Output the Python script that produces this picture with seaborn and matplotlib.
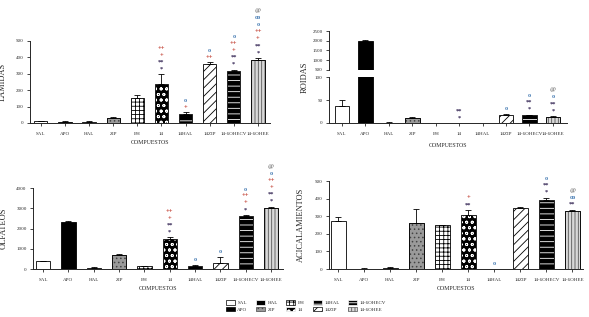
import numpy as np
import matplotlib
matplotlib.use("Agg")
import matplotlib.pyplot as plt
from matplotlib.patches import Patch, Rectangle
import seaborn as sns

# compound groups (same order in every panel)
categories = ["SAL", "APO", "HAL", "ZIP", "EH", "14", "14HAL", "14ZIP", "14-6OHECV", "14-6OHEE"]

# means and SEM
lamidas = [10, 8, 8, 30, 155, 240, 55, 360, 320, 385]
lamidas_err = [3, 3, 3, 4, 15, 57, 10, 10, 6, 12]
roidas = [38, 1970, 1, 10, 0, 0, 0, 17, 17, 12]
roidas_err = [11, 70, 1, 3, 0, 0, 0, 2, 1, 3]
olfateos = [395, 2300, 70, 680, 130, 1470, 160, 280, 2630, 3030]
olfateos_err = [25, 95, 30, 80, 30, 100, 25, 300, 30, 50]
acical = [275, 2, 5, 263, 248, 307, 0, 347, 393, 331]
acical_err = [22, 2, 8, 80, 3, 28, 0, 6, 12, 6]

# significance symbols above each bar (bottom to top)
lamidas_marks = {"14": ["*", "**", "+", "++"], "14HAL": ["+", "o"], "14ZIP": ["++", "o"],
                 "14-6OHECV": ["*", "**", "+", "++", "o"],
                 "14-6OHEE": ["*", "**", "+", "++", "o", "oo", "@"]}
roidas_marks = {"14": ["*", "**"], "14ZIP": ["o"], "14-6OHECV": ["*", "**", "o"],
                "14-6OHEE": ["*", "**", "o", "@"]}
olfateos_marks = {"14": ["*", "**", "+", "++"], "14HAL": ["o"], "14ZIP": ["o"],
                  "14-6OHECV": ["*", "+", "++", "o"],
                  "14-6OHEE": ["*", "**", "+", "++", "o", "@"]}
acical_marks = {"14": ["**", "+"], "14HAL": ["o"], "14-6OHECV": ["*", "**", "o"],
                "14-6OHEE": ["**", "oo", "@"]}

mark_colors = {"*": "#2e1f4f", "**": "#2e1f4f", "+": "#c0392b", "++": "#c0392b",
               "o": "#4a7fb5", "oo": "#4a7fb5", "@": "#808080"}

# facecolour, hatch, hatch colour
styles = {
    "SAL": ("white", "", "black"),
    "APO": ("black", "", "black"),
    "HAL": ("black", "-", "white"),
    "ZIP": ("#9a9a9a", "....", "#444444"),
    "EH": ("white", "++++", "black"),
    "14": ("black", "ooo", "white"),
    "14HAL": ("black", "--", "white"),
    "14ZIP": ("white", "////", "black"),
    "14-6OHECV": ("black", "---", "white"),
    "14-6OHEE": ("#d8d8d8", "|||||", "#555555"),
}

sns.set_style("ticks")
plt.rcParams["font.family"] = ["Liberation Serif", "DejaVu Serif"]
plt.rcParams["hatch.linewidth"] = 0.6
plt.rcParams["axes.linewidth"] = 0.7

fig = plt.figure(figsize=(5.89, 3.17), dpi=100)


def style_bars(ax):
    for bar, cat in zip(list(ax.patches), categories):
        face, hatch, hcol = styles[cat]
        bar.set_facecolor(face)
        bar.set_hatch(hatch)
        bar.set_edgecolor(hcol)
        bar.set_linewidth(0.6)
        if hcol != "black":
            ax.add_patch(Rectangle(bar.get_xy(), bar.get_width(), bar.get_height(),
                                   fill=False, edgecolor="black", lw=0.6))


def draw_panel(ax, values, errs, width):
    sns.barplot(x=categories, y=values, order=categories, color="white",
                width=width, errorbar=None, ax=ax)
    style_bars(ax)
    x = np.arange(len(categories))
    v = np.array(values, dtype=float)
    e = np.array(errs, dtype=float)
    keep = e > 0
    ax.errorbar(x[keep], v[keep], yerr=[np.zeros(keep.sum()), e[keep]], fmt="none",
                ecolor="black", elinewidth=0.6, capsize=2.2, capthick=0.6)
    sns.despine(ax=ax)
    ax.tick_params(axis="both", length=2.5, width=0.6, labelsize=3.6, pad=2)
    ax.tick_params(axis="x", pad=4)


def add_marks(ax, marks, values, errs):
    for i, cat in enumerate(categories):
        for k, sym in enumerate(marks.get(cat, [])):
            ax.annotate(sym, xy=(i, values[i] + errs[i]), xytext=(0, 2 + 5 * k),
                        textcoords="offset points", ha="center", va="bottom",
                        fontsize=4.6, fontweight="bold", color=mark_colors[sym],
                        annotation_clip=False)


def labels(ax, ylabel, xlabel_pad, ylab_x):
    ax.set_xlabel("COMPUESTOS", fontsize=4.2, labelpad=xlabel_pad)
    ax.set_ylabel(ylabel, fontsize=6)
    ax.yaxis.set_label_coords(ylab_x, 0.5)


# LAMIDAS
ax1 = fig.add_axes([0.0509, 0.612, 0.4075, 0.2587])
draw_panel(ax1, lamidas, lamidas_err, 0.55)
ax1.set_ylim(0, 500)
ax1.set_yticks(range(0, 501, 100))
ax1.set_xlim(-0.45, 9.5)
add_marks(ax1, lamidas_marks, lamidas, lamidas_err)
labels(ax1, "LAMIDAS", 3, -0.095)

# ROIDAS (broken axis)
ax2u = fig.add_axes([0.5586, 0.7792, 0.404, 0.123])
ax2 = fig.add_axes([0.5586, 0.612, 0.404, 0.145])
draw_panel(ax2u, roidas, roidas_err, 0.62)
draw_panel(ax2, roidas, roidas_err, 0.62)
ax2u.set_ylim(500, 2500)
ax2u.set_yticks(range(500, 2501, 500))
ax2u.spines["bottom"].set_visible(False)
ax2u.tick_params(axis="x", bottom=False, labelbottom=False)
ax2u.set_xlim(-0.55, 9.6)
ax2.set_ylim(0, 100)
ax2.set_yticks([0, 50, 100])
ax2.set_xlim(-0.55, 9.6)
add_marks(ax2, roidas_marks, roidas, roidas_err)
ax2.set_xlabel("COMPUESTOS", fontsize=4.2, labelpad=5)
fig.text(305 / 589, 1 - 77 / 317, "ROIDAS", rotation=90, fontsize=6,
         ha="center", va="center")

# OLFATEOS
ax3 = fig.add_axes([0.056, 0.1514, 0.4245, 0.2555])
draw_panel(ax3, olfateos, olfateos_err, 0.56)
ax3.set_ylim(0, 4000)
ax3.set_yticks(range(0, 4001, 1000))
ax3.set_xlim(-0.4, 9.47)
add_marks(ax3, olfateos_marks, olfateos, olfateos_err)
labels(ax3, "OLFATEOS", 3, -0.1)

# ACICALAMIENTOS
ax4 = fig.add_axes([0.5586, 0.1514, 0.431, 0.2776])
draw_panel(ax4, acical, acical_err, 0.58)
ax4.set_ylim(0, 500)
ax4.set_yticks(range(0, 501, 100))
ax4.set_xlim(-0.35, 9.4)
add_marks(ax4, acical_marks, acical, acical_err)
labels(ax4, "ACICALAMIENTOS", 3, -0.095)

handles = []
for cat in categories:
    face, hatch, hcol = styles[cat]
    handles.append(Patch(facecolor=face, hatch=hatch, edgecolor=hcol, lw=0.5, label=cat))
fig.legend(handles=handles, ncol=5, loc="center", bbox_to_anchor=(306 / 589, 1 - 306 / 317),
           fontsize=3.6, frameon=False, handlelength=1.8, handleheight=1.0,
           columnspacing=1.7, handletextpad=0.5, labelspacing=0.4)

fig.savefig("out.png", dpi=100)
